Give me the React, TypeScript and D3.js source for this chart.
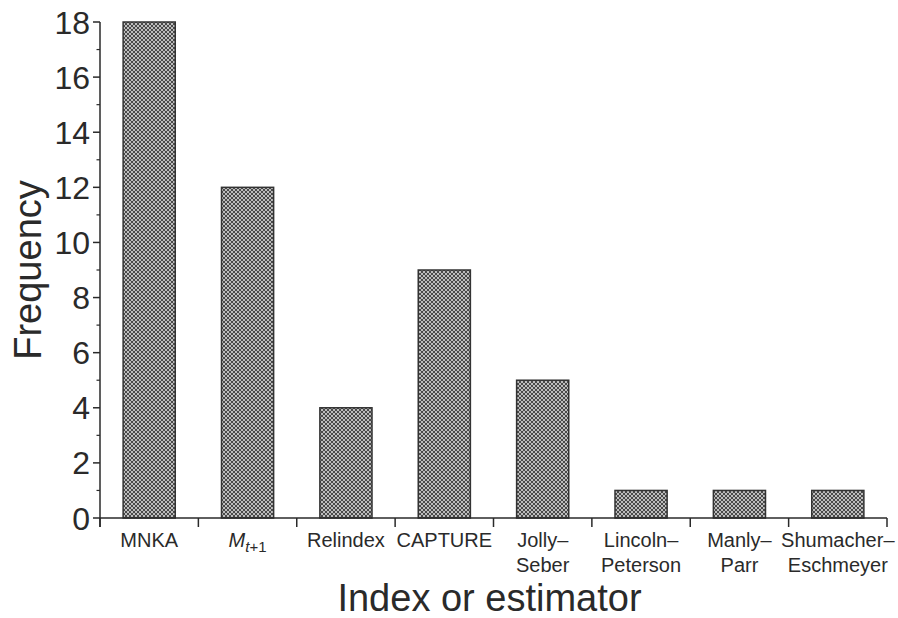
import { useEffect, useRef } from "react";
import * as d3 from "d3";

const categories = [
  ["MNKA"],
  ["M_t+1"],
  ["Relindex"],
  ["CAPTURE"],
  ["Jolly–", "Seber"],
  ["Lincoln–", "Peterson"],
  ["Manly–", "Parr"],
  ["Shumacher–", "Eschmeyer"],
];
const frequency = [18, 12, 4, 9, 5, 1, 1, 1];
const yTicks = [0, 2, 4, 6, 8, 10, 12, 14, 16, 18];
const yMinorTicks = [1, 3, 5, 7, 9, 11, 13, 15, 17];

export default function App() {
  const svgRef = useRef<SVGSVGElement | null>(null);

  useEffect(() => {
    if (!svgRef.current) return;
    const svg = d3.select(svgRef.current);
    svg.selectAll("*").remove();

    const W = 898;
    const H = 618;
    const margin = { top: 22, right: 11, bottom: 100, left: 100 };
    const innerW = W - margin.left - margin.right;
    const innerH = H - margin.top - margin.bottom;
    const ink = "#2a2a2a";
    const font = "Liberation Sans, Arial, Helvetica, sans-serif";

    const defs = svg.append("defs");
    const pat = defs
      .append("pattern")
      .attr("id", "hatch")
      .attr("patternUnits", "userSpaceOnUse")
      .attr("width", 4)
      .attr("height", 4);
    pat.append("rect").attr("width", 4).attr("height", 4).attr("fill", "#bdbdbd");
    pat
      .append("path")
      .attr("d", "M0,0 L4,4 M4,0 L0,4")
      .attr("stroke", "#4a4a4a")
      .attr("stroke-width", 1);

    const g = svg
      .append("g")
      .attr("transform", `translate(${margin.left},${margin.top})`);

    const keys = categories.map((_, i) => String(i));
    const x = d3.scaleBand<string>().domain(keys).range([0, innerW]).paddingInner(0.47).paddingOuter(0.235);
    const xEdges = d3.scaleLinear().domain([0, categories.length]).range([0, innerW]);
    const y = d3.scaleLinear().domain([0, 18]).range([innerH, 0]);

    // bars
    g.selectAll("rect.bar")
      .data(frequency)
      .join("rect")
      .attr("class", "bar")
      .attr("x", (_, i) => x(String(i))!)
      .attr("width", x.bandwidth())
      .attr("y", (d) => y(d))
      .attr("height", (d) => innerH - y(d))
      .attr("fill", "url(#hatch)")
      .attr("stroke", "#333")
      .attr("stroke-width", 1.5);

    // y axis
    g.append("line")
      .attr("x1", 0).attr("x2", 0)
      .attr("y1", y(18)).attr("y2", innerH + 9)
      .attr("stroke", ink).attr("stroke-width", 1.5);
    g.selectAll("line.ymaj")
      .data(yTicks)
      .join("line")
      .attr("x1", -7).attr("x2", 0)
      .attr("y1", (d) => y(d)).attr("y2", (d) => y(d))
      .attr("stroke", ink).attr("stroke-width", 1.5);
    g.selectAll("line.ymin")
      .data(yMinorTicks)
      .join("line")
      .attr("x1", -3.5).attr("x2", 0)
      .attr("y1", (d) => y(d)).attr("y2", (d) => y(d))
      .attr("stroke", ink).attr("stroke-width", 1.2);
    g.selectAll("text.ylab")
      .data(yTicks)
      .join("text")
      .attr("x", -10)
      .attr("y", (d) => y(d))
      .attr("dy", "0.36em")
      .attr("text-anchor", "end")
      .attr("font-family", font)
      .attr("font-size", 32)
      .attr("fill", ink)
      .text((d) => d);

    // x axis
    g.append("line")
      .attr("x1", 0).attr("x2", innerW)
      .attr("y1", innerH).attr("y2", innerH)
      .attr("stroke", ink).attr("stroke-width", 1.5);
    g.selectAll("line.xtick")
      .data(d3.range(categories.length + 1))
      .join("line")
      .attr("x1", (d) => xEdges(d)).attr("x2", (d) => xEdges(d))
      .attr("y1", innerH).attr("y2", innerH + 9)
      .attr("stroke", ink).attr("stroke-width", 1.5);

    const labels = g
      .selectAll("text.xlab")
      .data(categories)
      .join("text")
      .attr("class", "xlab")
      .attr("text-anchor", "middle")
      .attr("font-family", font)
      .attr("font-size", 20)
      .attr("fill", ink)
      .attr("transform", (_, i) => `translate(${x(String(i))! + x.bandwidth() / 2},${innerH + 29})`);

    labels.each(function (lines) {
      const t = d3.select(this);
      if (lines[0] === "M_t+1") {
        t.append("tspan").attr("font-style", "italic").text("M");
        t.append("tspan").attr("font-style", "italic").attr("font-size", 15).attr("dy", 5).text("t");
        t.append("tspan").attr("font-size", 15).text("+1");
        return;
      }
      lines.forEach((line, li) => {
        t.append("tspan").attr("x", 0).attr("dy", li === 0 ? 0 : 25).text(line);
      });
    });

    // axis titles
    svg.append("text")
      .attr("x", margin.left + innerW / 2 - 4)
      .attr("y", 611)
      .attr("text-anchor", "middle")
      .attr("font-family", font)
      .attr("font-size", 38)
      .attr("fill", ink)
      .text("Index or estimator");
    svg.append("text")
      .attr("transform", `translate(41,${margin.top + innerH / 2}) rotate(-90)`)
      .attr("text-anchor", "middle")
      .attr("font-family", font)
      .attr("font-size", 38)
      .attr("fill", ink)
      .text("Frequency");
  }, []);

  return (
    <div style={{ position: "absolute", left: 0, top: 0, background: "#fff" }}>
      <svg ref={svgRef} width={898} height={618} style={{ display: "block" }} />
    </div>
  );
}
